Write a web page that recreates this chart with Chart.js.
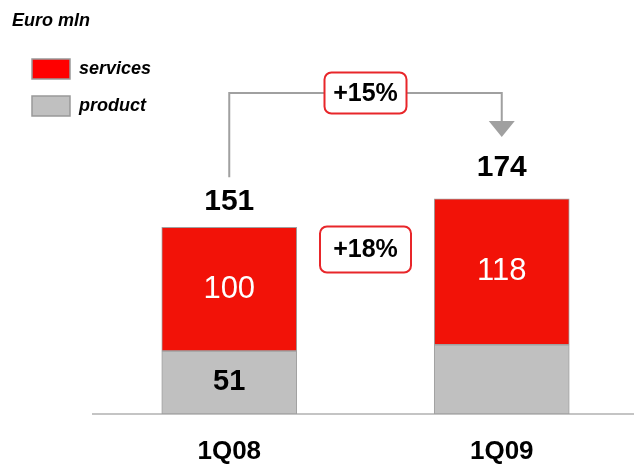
<!DOCTYPE html>
<html>
<head>
<meta charset="utf-8">
<script src="https://cdn.jsdelivr.net/npm/chart.js@4"></script>
<style>
  html, body { margin: 0; padding: 0; background: #fff; overflow: hidden; }
</style>
</head>
<body>
<canvas id="myChart" width="642" height="464"></canvas>
<script>
const labels = ['1Q08', '1Q09'];
const product = [51, 56];
const services = [100, 118];
const totals = [151, 174];
const productShown = [true, false];
const growthTotal = '+15%';
const growthServices = '+18%';
const unitLabel = 'Euro mln';

const RED = '#f21208';
const GREY = '#c0c0c0';
const FONT = '"Liberation Sans", Arial, sans-serif';

function box(ctx, cx, cy, w, h, text) {
  ctx.save();
  ctx.beginPath();
  ctx.roundRect(cx - w / 2, cy - h / 2, w, h, 7);
  ctx.fillStyle = '#fff';
  ctx.fill();
  ctx.lineWidth = 2;
  ctx.strokeStyle = '#e8262a';
  ctx.stroke();
  ctx.fillStyle = '#000';
  ctx.font = 'bold 25px ' + FONT;
  ctx.textAlign = 'center';
  ctx.textBaseline = 'middle';
  ctx.fillText(text, cx, cy + 1);
  ctx.restore();
}

const extras = {
  id: 'extras',
  afterDatasetsDraw(chart) {
    const ctx = chart.ctx;
    const xs = chart.scales.x, ys = chart.scales.y;
    const prodMeta = chart.getDatasetMeta(0);
    const servMeta = chart.getDatasetMeta(1);

    ctx.save();
    ctx.textAlign = 'center';
    ctx.textBaseline = 'middle';

    // values inside the segments
    servMeta.data.forEach((bar, i) => {
      ctx.fillStyle = '#fff';
      ctx.font = '31px ' + FONT;
      ctx.fillText(String(services[i]), bar.x, (bar.y + bar.base) / 2);
    });
    prodMeta.data.forEach((bar, i) => {
      if (!productShown[i]) return;
      ctx.fillStyle = '#000';
      ctx.font = 'bold 29px ' + FONT;
      ctx.fillText(String(product[i]), bar.x, (bar.y + bar.base) / 2);
    });

    // totals above the bars
    const totalGap = [26, 31];
    ctx.fillStyle = '#000';
    ctx.font = 'bold 30px ' + FONT;
    totals.forEach((t, i) => {
      ctx.fillText(String(t), xs.getPixelForValue(i), ys.getPixelForValue(t) - totalGap[i]);
    });

    // bracket from first total to second
    const x0 = xs.getPixelForValue(0), x1 = xs.getPixelForValue(1);
    const top0 = ys.getPixelForValue(totals[0]), top1 = ys.getPixelForValue(totals[1]);
    const lineY = 93;
    const tipY = top1 - 62;
    ctx.strokeStyle = '#a0a0a0';
    ctx.lineWidth = 2;
    ctx.beginPath();
    ctx.moveTo(x0, top0 - 50);
    ctx.lineTo(x0, lineY);
    ctx.lineTo(x1, lineY);
    ctx.lineTo(x1, tipY - 14);
    ctx.stroke();
    ctx.fillStyle = '#a0a0a0';
    ctx.beginPath();
    ctx.moveTo(x1 - 13, tipY - 16);
    ctx.lineTo(x1 + 13, tipY - 16);
    ctx.lineTo(x1, tipY);
    ctx.closePath();
    ctx.fill();

    const mid = (x0 + x1) / 2;
    box(ctx, mid, lineY, 82, 41, growthTotal);
    box(ctx, mid, 249.5, 91, 46, growthServices);

    // unit and legend
    ctx.textAlign = 'left';
    ctx.fillStyle = '#000';
    ctx.font = 'italic bold 18px ' + FONT;
    ctx.fillText(unitLabel, 12, 21);

    const items = [chart.data.datasets[1], chart.data.datasets[0]];
    items.forEach((ds, i) => {
      const top = 59 + i * 37;
      ctx.fillStyle = i === 0 ? '#ff0000' : ds.backgroundColor;
      ctx.fillRect(32, top, 38, 20);
      ctx.strokeStyle = '#999';
      ctx.lineWidth = 1.5;
      ctx.strokeRect(32, top, 38, 20);
      ctx.fillStyle = '#000';
      ctx.font = 'italic bold 18px ' + FONT;
      ctx.fillText(ds.label, 79, top + 10);
    });
    ctx.restore();
  }
};

new Chart(document.getElementById('myChart'), {
  type: 'bar',
  data: {
    labels: labels,
    datasets: [
      {
        label: 'product',
        data: product,
        backgroundColor: GREY,
        borderColor: '#a0a0a0',
        borderWidth: 1,
        borderSkipped: false,
        barThickness: 135
      },
      {
        label: 'services',
        data: services,
        backgroundColor: RED,
        borderColor: '#a0a0a0',
        borderWidth: 1,
        borderSkipped: false,
        barThickness: 135
      }
    ]
  },
  options: {
    responsive: false,
    animation: false,
    layout: { padding: { top: 105, left: 93, right: 4, bottom: -26 } },
    plugins: {
      legend: { display: false },
      tooltip: { enabled: false }
    },
    scales: {
      x: {
        stacked: true,
        grid: { display: false, drawTicks: false },
        border: { display: true, color: '#c4c4c4', width: 2 },
        ticks: {
          padding: 25,
          color: '#000',
          font: { family: FONT, size: 26, weight: 'bold', lineHeight: 1 }
        }
      },
      y: {
        stacked: true,
        display: false,
        min: 0,
        max: 250
      }
    }
  },
  plugins: [extras]
});
</script>
</body>
</html>
